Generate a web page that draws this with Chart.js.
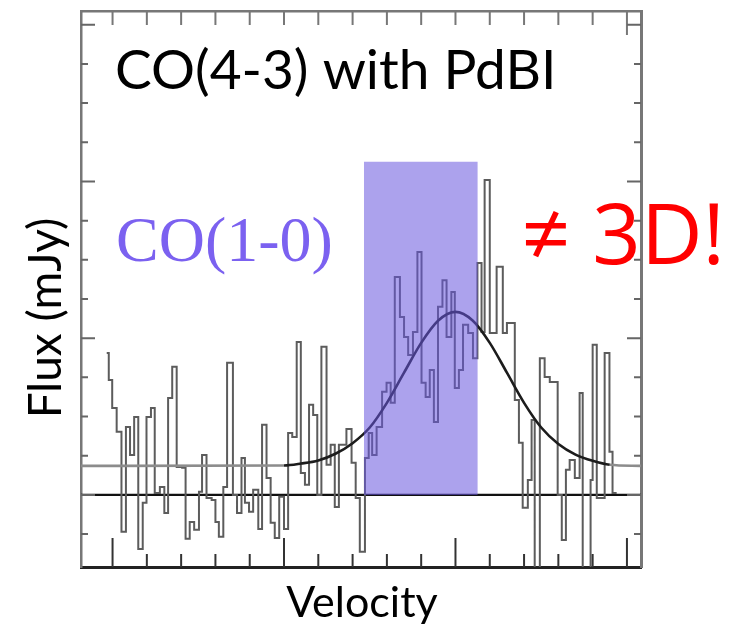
<!DOCTYPE html>
<html>
<head>
<meta charset="utf-8">
<script src="https://cdn.jsdelivr.net/npm/chart.js@4.4.1/dist/chart.umd.min.js"></script>
<style>
  body { margin: 0; background: #fff; }
</style>
</head>
<body>
<canvas id="specChart" width="732" height="626"></canvas>
<script>
// spectrum: channel start velocities (km/s) and flux (mJy)
const velocity = [-1017, -1011, -1001, -988, -974, -961, -949, -937, -925, -912,
  -901, -888, -877, -862, -849, -838, -826, -813, -797, -787,
  -775, -762, -748, -739, -726, -711, -700, -690, -677, -666,
  -649, -637, -624, -614, -602, -590, -575, -564, -551, -539,
  -527, -514, -500, -488, -476, -463, -451, -439, -427, -415,
  -403, -391, -376, -364, -352, -340, -318, -303, -291, -279,
  -264, -253, -243, -230, -214, -201, -189, -177, -162, -150,
  -138, -124, -111, -99, -87, -75, -63, -51, -38, -26,
  -12, -2, 10, 22, 37, 51, 64, 76, 85, 100,
  120, 138, 150, 173, 185, 196, 211, 222, 231, 246,
  260, 275, 298, 310, 322, 333, 348, 362, 371, 394,
  400, 412, 435, 449, 458, 470];
const flux = [3.62, 2.93, 2.22, 1.61, -0.94, 1.73, 1.02, 1.99, -1.38, -0.20,
  1.99, 2.22, 0.05, 0.20, -0.46, 2.47, 3.27, 0.71, 0.69, -1.12,
  -0.69, -0.89, 0.08, 1.02, -0.08, -0.13, -0.69, -1.07, 0.20, 3.37,
  0.00, -0.46, 0.94, -0.20, -0.43, 0.13, -0.87, 1.79, 0.43, -0.71,
  -1.10, -0.05, -0.87, 1.58, 1.48, 3.90, 0.56, 0.26, 2.30, 2.04,
  0.00, 3.78, 0.77, 1.28, -0.31, 1.28, 1.68, 0.82, -0.08, -1.45,
  0.94, 1.58, 1.02, 1.73, 2.63, 2.86, 2.35, 5.56, 4.54, 4.03,
  3.57, 4.16, 6.20, 2.86, 2.50, 3.19, 1.86, 4.80, 5.48, 4.03,
  5.18, 2.73, 3.19, 4.34, 4.13, 3.49, 5.92, 4.16, 8.04, 4.13,
  5.82, 4.13, 4.39, 2.42, 1.33, -0.33, 0.38, 1.91, -2.30, 3.49,
  3.01, 2.88, 0.00, -1.15, 0.64, 0.89, 0.43, 2.60, -2.30, 0.38,
  3.83, -0.08, 3.62, 1.10, 0.05, 0.05];

// gaussian fit, sampled from the curve
const fitVelocity = [-1092, -500, -450, -400, -350, -300, -250, -200, -150, -100, -50,
  0, 50, 100, 150, 200, 250, 300, 350, 400, 450, 541];
const fitFlux = [0.74, 0.75, 0.80, 0.88, 1.05, 1.32, 1.72, 2.35, 3.12, 3.88, 4.45,
  4.67, 4.45, 3.88, 3.12, 2.35, 1.72, 1.30, 1.03, 0.87, 0.77, 0.74];

// zero level
const zeroVelocity = [-1092, 541];
const zeroFlux = [0, 0];

// CO(1-0) velocity window
const boxVelocity = [-267, 65];
const boxFlux = [8.5, 8.5];

// axis ticks
const xTicks = [-1000, -900, -800, -700, -600, -500, -400, -300, -200, -100, 0, 100, 200, 300, 400, 500];
const xMajor = [-1000, -500, 0, 500];
const xTopMajor = [500];
const yTicks = [-1, 0, 1, 2, 3, 4, 5, 6, 7, 8, 9, 10, 11, 12];
const yMajor = [0, 4, 8, 12];

const pts = (xs, ys) => xs.map((v, i) => ({x: v, y: ys[i]}));

// ticks pointing into the frame
const inTicks = {
  id: 'inTicks',
  afterDatasetsDraw(chart) {
    const {ctx, chartArea: a} = chart;
    const sx = chart.scales.x, sy = chart.scales.y;
    ctx.save();
    ctx.lineWidth = 2;
    xTicks.forEach(v => {
      const px = sx.getPixelForValue(v);
      ctx.strokeStyle = '#333';
      ctx.beginPath();
      ctx.moveTo(px, a.bottom);
      ctx.lineTo(px, a.bottom - (xMajor.includes(v) ? 29 : 13));
      ctx.stroke();
      ctx.strokeStyle = '#777';
      ctx.beginPath();
      ctx.moveTo(px, a.top);
      ctx.lineTo(px, a.top + (xTopMajor.includes(v) ? 24 : 14));
      ctx.stroke();
    });
    ctx.strokeStyle = '#666';
    yTicks.forEach(v => {
      const py = sy.getPixelForValue(v);
      const len = yMajor.includes(v) ? 14 : 7;
      ctx.beginPath();
      ctx.moveTo(a.left, py);
      ctx.lineTo(a.left + len, py);
      ctx.moveTo(a.right, py);
      ctx.lineTo(a.right - len, py);
      ctx.stroke();
    });
    ctx.restore();
  }
};

const notes = {
  id: 'notes',
  afterDraw(chart) {
    const {ctx} = chart;
    const sx = chart.scales.x, sy = chart.scales.y;
    ctx.save();
    ctx.textBaseline = 'middle';
    ctx.fillStyle = '#000';
    ctx.font = '55px Lato';
    ctx.fillText('CO(4-3) with PdBI', sx.getPixelForValue(-993), sy.getPixelForValue(10.8));
    ctx.fillStyle = '#7b61f0';
    ctx.font = '64px "Liberation Serif"';
    ctx.fillText('CO(1-0)', sx.getPixelForValue(-990), sy.getPixelForValue(6.4));
    ctx.fillStyle = '#ff0000';
    ctx.font = '85px "Open Sans"';
    ctx.fillText('\u2260 3D!', sx.getPixelForValue(193), sy.getPixelForValue(6.5));
    // axis titles
    ctx.fillStyle = '#000';
    ctx.textAlign = 'center';
    ctx.font = '43px Lato';
    ctx.fillText('Velocity', 362, 603);
    ctx.translate(46, 318);
    ctx.rotate(-Math.PI / 2);
    ctx.font = '46px Lato';
    ctx.fillText('Flux (mJy)', 0, 0);
    ctx.restore();
  }
};

const flatBase = ctx => (ctx.p0.parsed.y <= 0.77 && ctx.p1.parsed.y <= 0.77) ? '#8c8c8c' : '#1c1c1c';

new Chart(document.getElementById('specChart'), {
  type: 'line',
  data: {
    datasets: [
      {
        data: pts(boxVelocity, boxFlux),
        borderWidth: 0,
        pointRadius: 0,
        backgroundColor: 'rgba(104, 86, 222, 0.55)',
        fill: 'origin',
        order: 0
      },
      {
        data: pts(fitVelocity, fitFlux),
        borderWidth: 2.6,
        borderColor: '#1c1c1c',
        segment: { borderColor: flatBase },
        cubicInterpolationMode: 'monotone',
        pointRadius: 0,
        order: 1
      },
      {
        data: pts(velocity, flux),
        stepped: true,
        borderWidth: 2,
        borderColor: '#5c5c5c',
        pointRadius: 0,
        order: 2
      },
      {
        data: pts(zeroVelocity, zeroFlux),
        borderWidth: 2.4,
        borderColor: '#111',
        pointRadius: 0,
        order: 3
      }
    ]
  },
  options: {
    responsive: false,
    animation: false,
    devicePixelRatio: 1,
    layout: { padding: { top: 11, right: 91, left: 0, bottom: 0 } },
    plugins: {
      legend: { display: false },
      tooltip: { enabled: false }
    },
    scales: {
      x: {
        type: 'linear',
        min: -1092,
        max: 541,
        ticks: { display: false },
        grid: { display: false },
        border: { display: true, color: '#222', width: 3 },
        afterFit: s => { s.height = 59; }
      },
      x2: {
        type: 'linear',
        position: 'top',
        min: -1092,
        max: 541,
        ticks: { display: false },
        grid: { display: false },
        border: { display: true, color: '#777', width: 2.5 },
        afterFit: s => { s.height = 0; }
      },
      y: {
        min: -1.84,
        max: 12.35,
        ticks: { display: false },
        grid: { display: false },
        border: { display: true, color: '#777', width: 2.5 },
        afterFit: s => { s.width = 81; }
      },
      y2: {
        position: 'right',
        min: -1.84,
        max: 12.35,
        ticks: { display: false },
        grid: { display: false },
        border: { display: true, color: '#777', width: 3 },
        afterFit: s => { s.width = 0; }
      }
    }
  },
  plugins: [inTicks, notes]
});
</script>
</body>
</html>
